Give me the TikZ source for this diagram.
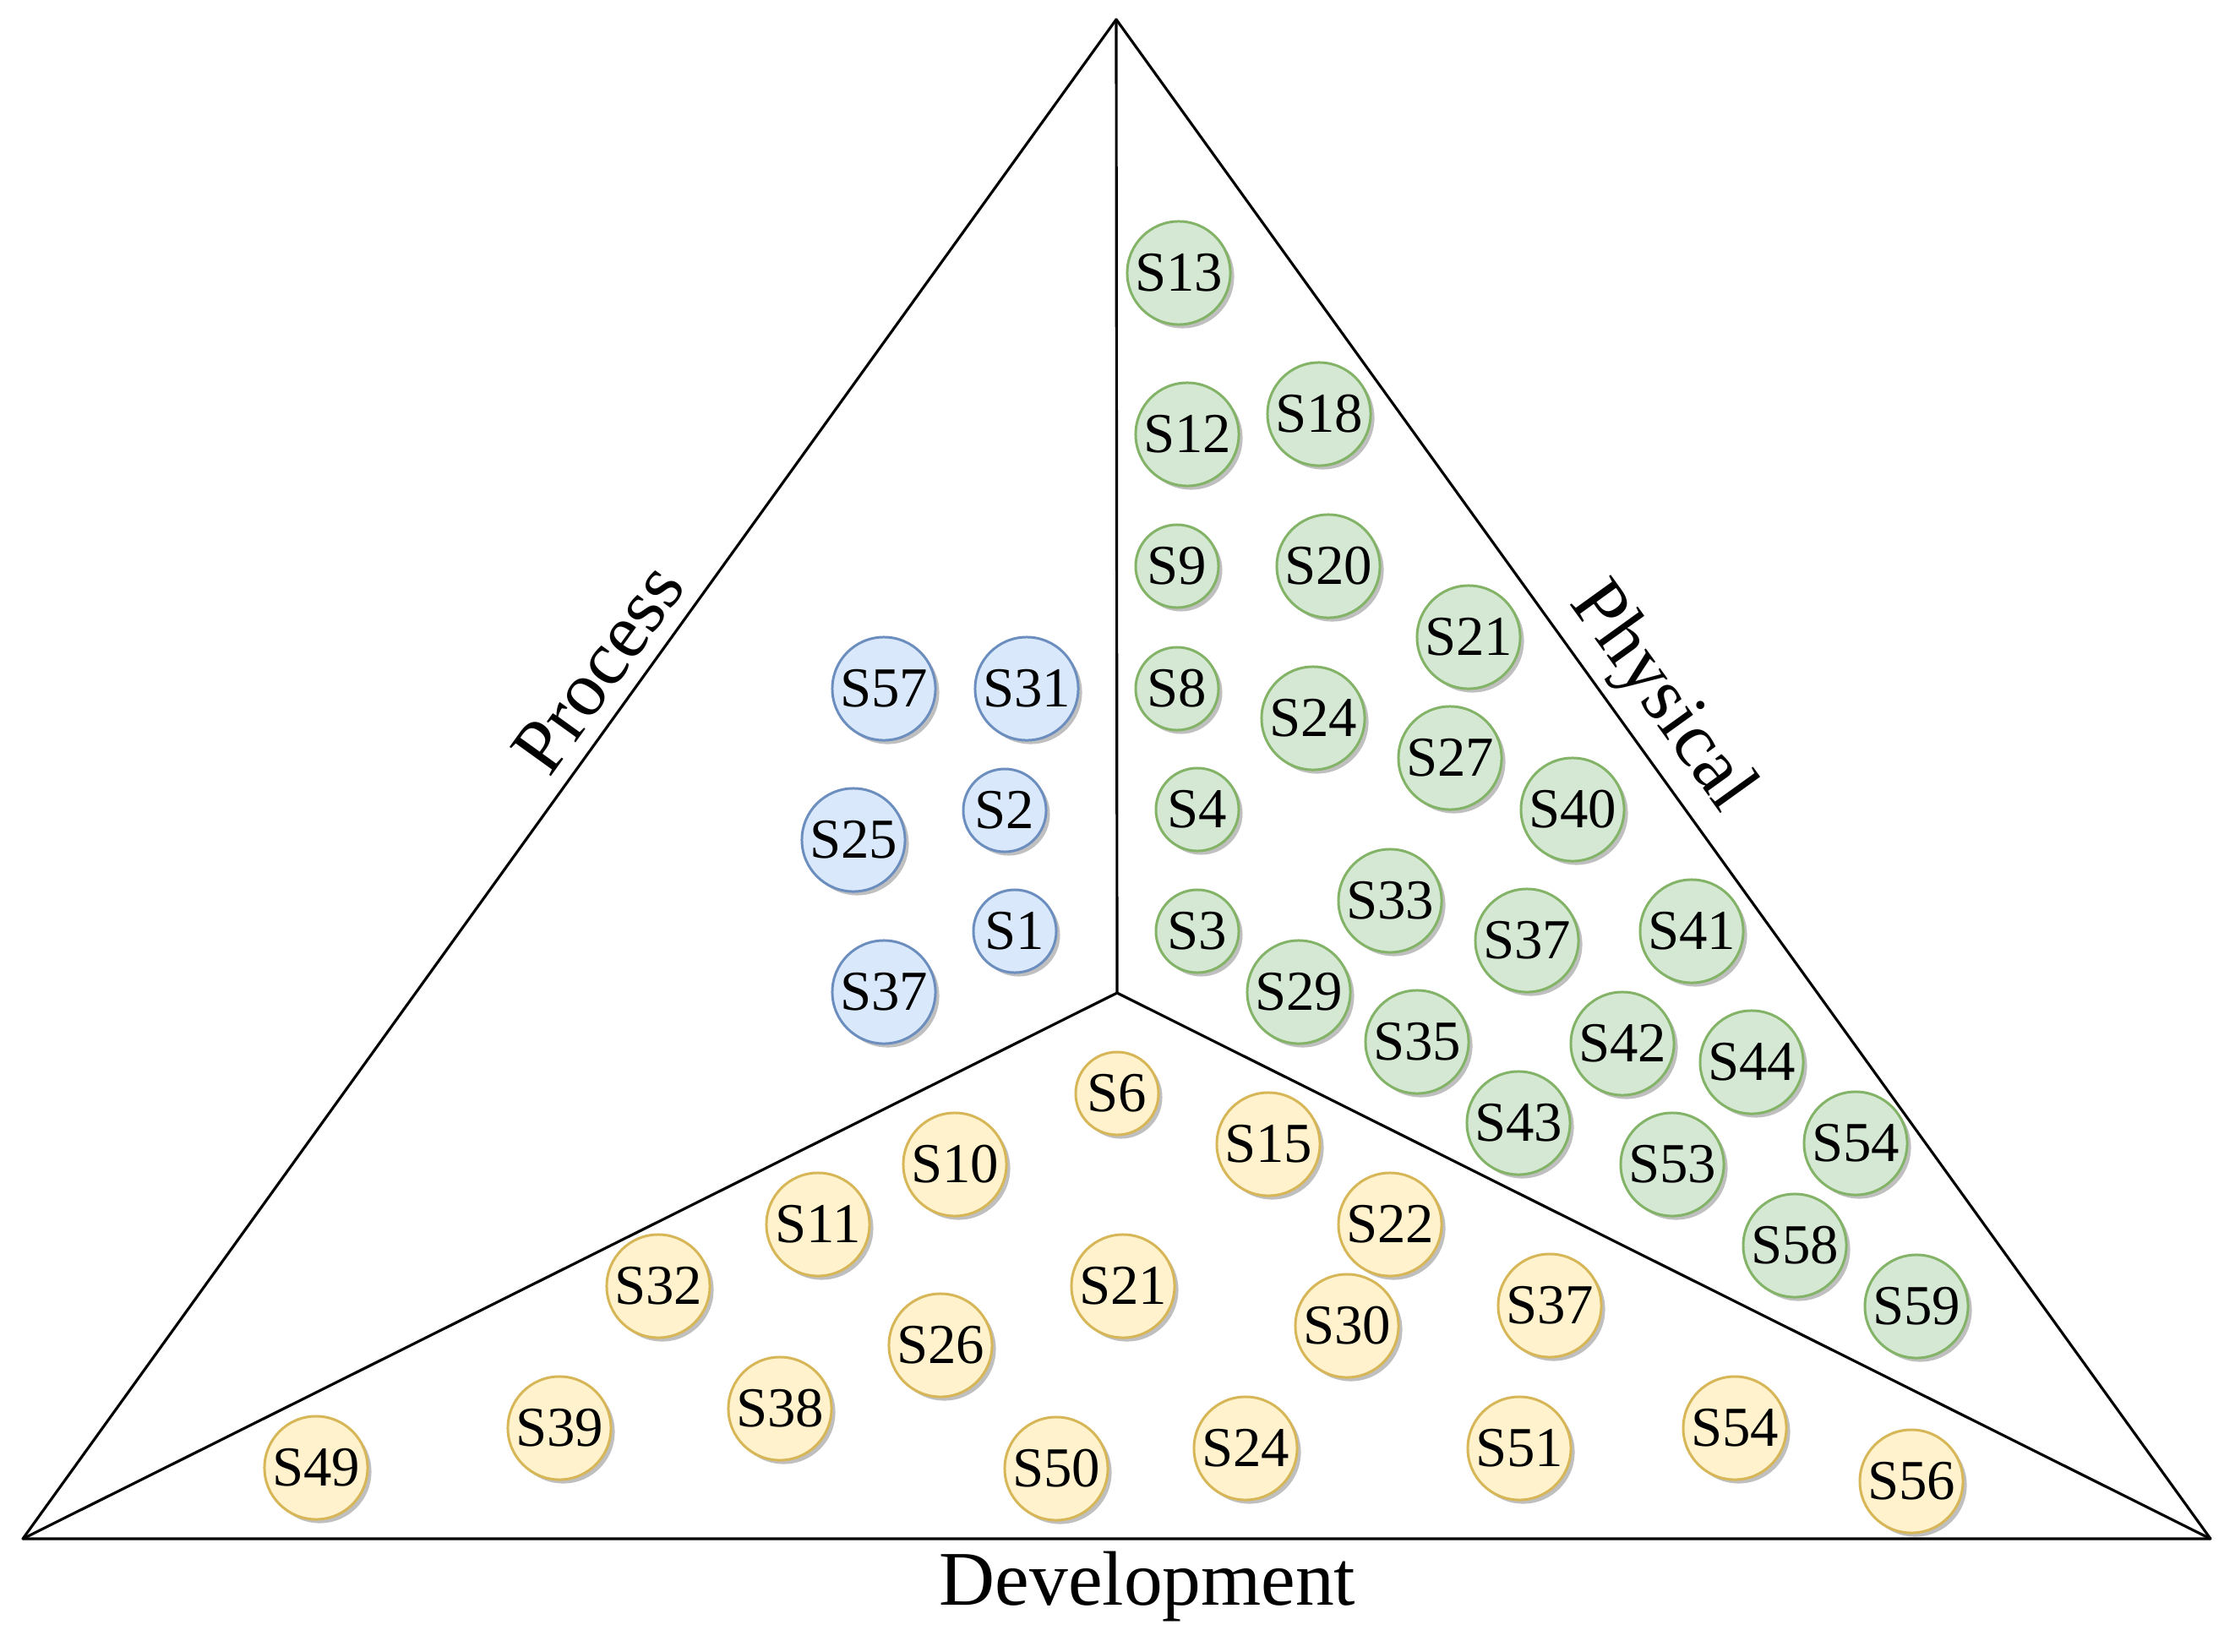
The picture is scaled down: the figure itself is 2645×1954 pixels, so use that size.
\documentclass[tikz,border=0pt]{standalone}
\usepackage{fontspec}
\setmainfont{Liberation Serif}
\usetikzlibrary{shadows}
\definecolor{pfill}{HTML}{DAE8FC}
\definecolor{pline}{HTML}{6C8EBF}
\definecolor{hfill}{HTML}{D5E8D4}
\definecolor{hline}{HTML}{82B366}
\definecolor{dfill}{HTML}{FFF2CC}
\definecolor{dline}{HTML}{D6B656}
\definecolor{shad}{HTML}{BFBFBF}
\tikzset{
  bub/.style={circle, inner sep=0pt, minimum size=1.22cm, line width=0.85pt,
    font=\fontsize{19}{19}\selectfont,
    drop shadow={shadow xshift=0.045cm, shadow yshift=-0.045cm, fill=shad, opacity=1}},
  sm/.style={minimum size=0.98cm},
  pc/.style={bub, draw=pline, fill=pfill},
  hc/.style={bub, draw=hline, fill=hfill},
  dc/.style={bub, draw=dline, fill=dfill},
  edge/.style={line width=0.9pt, line join=round},
  lab/.style={font=\fontsize{26}{26}\selectfont, inner sep=0pt}
}
\begin{document}
\begin{tikzpicture}[x=0.01cm, y=-0.01cm]
\useasboundingbox (0,0) rectangle (2645,1954);
% frame
\coordinate (top) at (1321,23);
\coordinate (bl) at (27,1821);
\coordinate (br) at (2616,1821);
\coordinate (mid) at (1322,1175);
\draw[edge] (top) -- (bl) -- (br) -- cycle;
\draw[edge] (top) -- (mid);
\draw[edge] (bl) -- (mid) -- (br);
% labels
\node[lab, rotate=54.25] (lproc) at (708,791) {Process};
\node[lab, rotate=-54.25] (lphys) at (1965,826) {Physical};
\node[lab, anchor=base] (ldev) at (1358,1899) {Development};
% process
\node[pc] (p57) at (1046,815) {S57};
\node[pc] (p31) at (1215,815) {S31};
\node[pc] (p25) at (1010,994) {S25};
\node[pc, sm] (p2) at (1189,959) {S2};
\node[pc, sm] (p1) at (1201,1102) {S1};
\node[pc] (p37) at (1046,1174) {S37};
% physical
\node[hc] (h13) at (1395,323) {S13};
\node[hc] (h12) at (1405,514) {S12};
\node[hc] (h18) at (1561,490) {S18};
\node[hc, sm] (h9) at (1393,670) {S9};
\node[hc] (h20) at (1572,670) {S20};
\node[hc] (h21) at (1738,754) {S21};
\node[hc, sm] (h8) at (1393,815) {S8};
\node[hc] (h24) at (1554,850) {S24};
\node[hc] (h27) at (1716,897) {S27};
\node[hc] (h40) at (1861,958) {S40};
\node[hc, sm] (h4) at (1417,958) {S4};
\node[hc] (h33) at (1645,1066) {S33};
\node[hc] (h37) at (1807,1113) {S37};
\node[hc] (h41) at (2002,1102) {S41};
\node[hc, sm] (h3) at (1417,1102) {S3};
\node[hc] (h29) at (1537,1174) {S29};
\node[hc] (h35) at (1677,1233) {S35};
\node[hc] (h42) at (1920,1235) {S42};
\node[hc] (h44) at (2073,1257) {S44};
\node[hc] (h43) at (1797,1329) {S43};
\node[hc] (h53) at (1979,1378) {S53};
\node[hc] (h54) at (2196,1353) {S54};
\node[hc] (h58) at (2124,1474) {S58};
\node[hc] (h59) at (2268,1546) {S59};
% development
\node[dc, sm] (d6) at (1322,1294) {S6};
\node[dc] (d15) at (1501,1354) {S15};
\node[dc] (d10) at (1130,1378) {S10};
\node[dc] (d11) at (968,1449) {S11};
\node[dc] (d22) at (1645,1449) {S22};
\node[dc] (d32) at (779,1522) {S32};
\node[dc] (d21) at (1329,1522) {S21};
\node[dc] (d30) at (1594,1569) {S30};
\node[dc] (d37) at (1834,1545) {S37};
\node[dc] (d26) at (1113,1592) {S26};
\node[dc] (d38) at (923,1667) {S38};
\node[dc] (d39) at (662,1690) {S39};
\node[dc] (d49) at (374,1737) {S49};
\node[dc] (d50) at (1250,1738) {S50};
\node[dc] (d24) at (1474,1714) {S24};
\node[dc] (d51) at (1798,1714) {S51};
\node[dc] (d54) at (2053,1690) {S54};
\node[dc] (d56) at (2262,1753) {S56};
\end{tikzpicture}
\end{document}
